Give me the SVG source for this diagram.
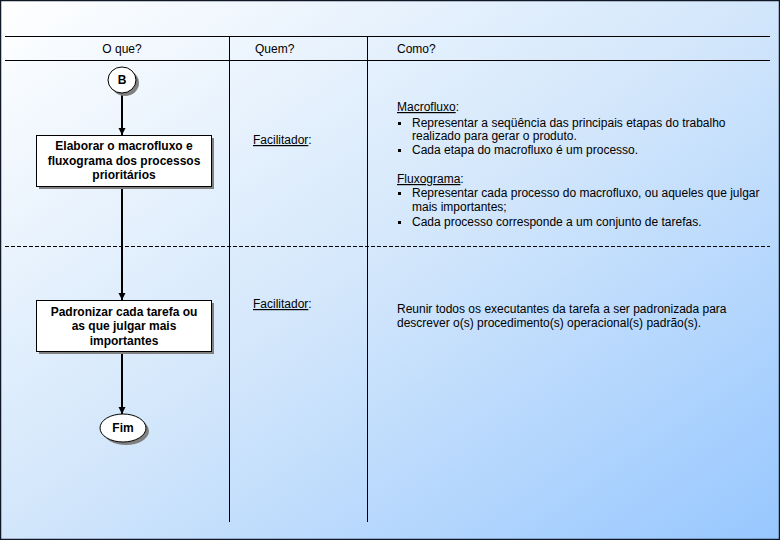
<svg xmlns="http://www.w3.org/2000/svg" width="780" height="540" viewBox="0 0 780 540">
<defs>
<linearGradient id="bg" x1="0" y1="0" x2="1" y2="1">
<stop offset="0" stop-color="#ffffff"/>
<stop offset="0.5" stop-color="#d2e6fb"/>
<stop offset="1" stop-color="#97c7ff"/>
</linearGradient>
<marker id="arr" markerWidth="8" markerHeight="8" refX="7" refY="4" orient="auto" markerUnits="userSpaceOnUse">
<path d="M0,0.5 L7,4 L0,7.5 Z" fill="#000"/>
</marker>
</defs>
<style>
.ln{stroke:#000;stroke-width:1;fill:none}
.hd{font-family:"Liberation Sans",Arial,sans-serif;font-size:12px;fill:#000}
.nd{font-family:"Liberation Sans",Arial,sans-serif;font-size:12px;font-weight:bold;fill:#000;text-anchor:middle}
.tx{font-family:"Liberation Sans",Arial,sans-serif;font-size:12px;fill:#000}
.u{text-decoration:underline}
.box{fill:#fff;stroke:#000;stroke-width:1}
.sh{fill:#808080}
.con{stroke:#000;stroke-width:2;fill:none}
.bul{fill:#000}
</style>
<rect x="0" y="0" width="780" height="540" fill="url(#bg)"/>
<rect x="0.5" y="0.5" width="779" height="539" fill="none" stroke="#101828" stroke-width="1.5"/>
<g id="grid">
<line class="ln" x1="5" y1="36.5" x2="770" y2="36.5"/>
<line class="ln" x1="5" y1="60.5" x2="770" y2="60.5"/>
<line class="ln" x1="229.5" y1="36" x2="229.5" y2="522"/>
<line class="ln" x1="367.5" y1="36" x2="367.5" y2="522"/>
<line class="ln" x1="5" y1="246.5" x2="770" y2="246.5" stroke-dasharray="4,2"/>
</g>
<g id="headers">
<text class="hd" x="122" y="53" text-anchor="middle">O que?</text>
<text class="hd" x="255" y="53">Quem?</text>
<text class="hd" x="397" y="53">Como?</text>
</g>
<g id="connectors">
<line class="con" x1="122" y1="93" x2="122" y2="135" marker-end="url(#arr)"/>
<line class="con" x1="122" y1="186" x2="122" y2="300" marker-end="url(#arr)"/>
<line class="con" x1="122" y1="352" x2="122" y2="414" marker-end="url(#arr)"/>
</g>
<g id="nodeB">
<ellipse class="sh" cx="125" cy="83" rx="14" ry="13"/>
<ellipse class="box" cx="122" cy="80" rx="14" ry="13"/>
<text class="nd" x="122" y="84">B</text>
</g>
<g id="node1">
<rect class="sh" x="39" y="138" width="175" height="51"/>
<rect class="box" x="36.5" y="135.5" width="175" height="51"/>
<text class="nd" x="124" y="150">Elaborar o macrofluxo e</text>
<text class="nd" x="124" y="165">fluxograma dos processos</text>
<text class="nd" x="124" y="179">prioritários</text>
</g>
<g id="node2">
<rect class="sh" x="39" y="303" width="175" height="51"/>
<rect class="box" x="36.5" y="300.5" width="175" height="51"/>
<text class="nd" x="124" y="316">Padronizar cada tarefa ou</text>
<text class="nd" x="124" y="330">as que julgar mais</text>
<text class="nd" x="124" y="345">importantes</text>
</g>
<g id="nodeFim">
<ellipse class="sh" cx="126" cy="431" rx="23" ry="14"/>
<ellipse class="box" cx="123" cy="428" rx="23" ry="14"/>
<text class="nd" x="123" y="432">Fim</text>
</g>
<g id="quem">
<text class="tx" x="253" y="144"><tspan class="u">Facilitador</tspan>:</text>
<text class="tx" x="253" y="308"><tspan class="u">Facilitador</tspan>:</text>
</g>
<g id="como">
<text class="tx" x="397" y="111"><tspan class="u">Macrofluxo</tspan>:</text>
<rect class="bul" x="398" y="122" width="3" height="3"/>
<text class="tx" x="412" y="127">Representar a seqüência das principais etapas do trabalho</text>
<text class="tx" x="412" y="140">realizado para gerar o produto.</text>
<rect class="bul" x="398" y="149" width="3" height="3"/>
<text class="tx" x="412" y="154">Cada etapa do macrofluxo é um processo.</text>
<text class="tx" x="397" y="183"><tspan class="u">Fluxograma</tspan>:</text>
<rect class="bul" x="398" y="192" width="3" height="3"/>
<text class="tx" x="412" y="197">Representar cada processo do macrofluxo, ou aqueles que julgar</text>
<text class="tx" x="412" y="211">mais importantes;</text>
<rect class="bul" x="398" y="221" width="3" height="3"/>
<text class="tx" x="412" y="226">Cada processo corresponde a um conjunto de tarefas.</text>
<text class="tx" x="397" y="313">Reunir todos os executantes da tarefa a ser padronizada para</text>
<text class="tx" x="397" y="327">descrever o(s) procedimento(s) operacional(s) padrão(s).</text>
</g>
</svg>
